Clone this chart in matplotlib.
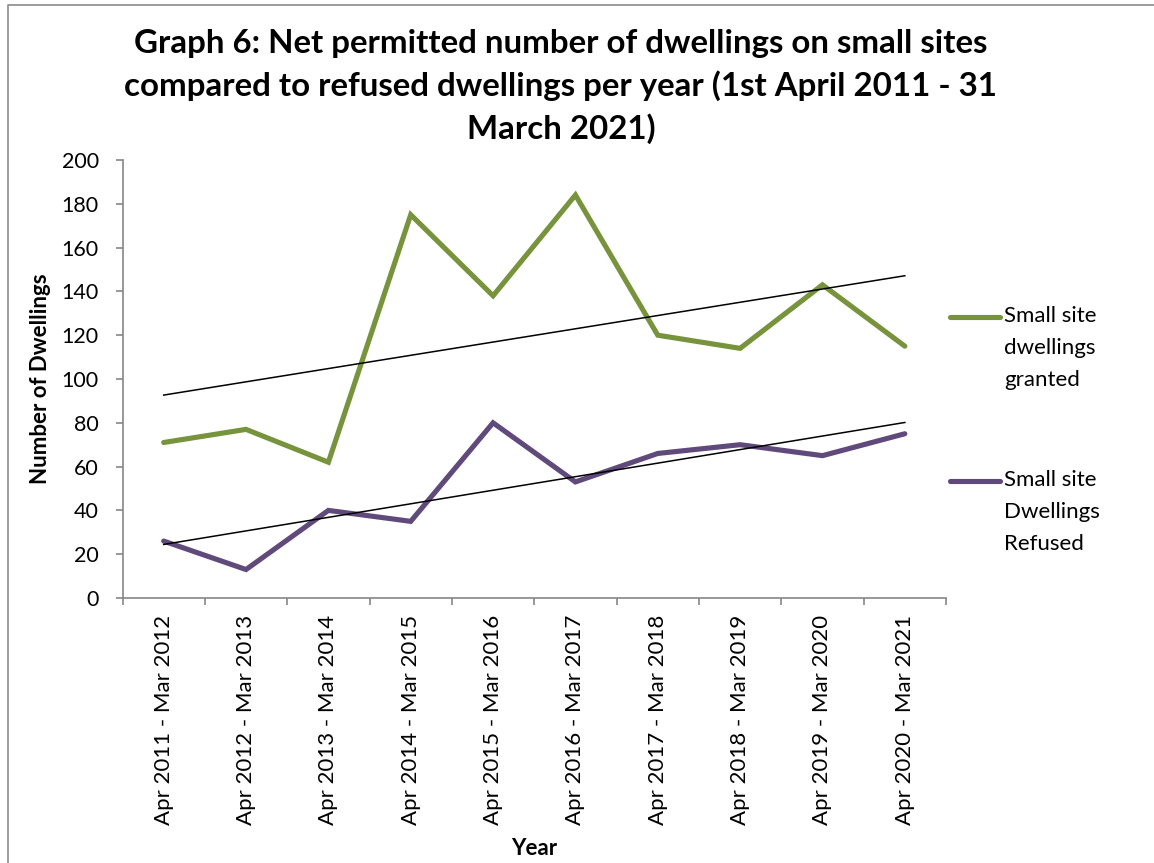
import numpy as np
import matplotlib
matplotlib.use("Agg")
import matplotlib.pyplot as plt
from matplotlib.lines import Line2D
from matplotlib.ticker import FixedLocator, NullFormatter

plt.rcParams['font.family'] = ['Lato', 'DejaVu Sans']

periods = ['Apr 2011 - Mar 2012', 'Apr 2012 - Mar 2013', 'Apr 2013 - Mar 2014',
           'Apr 2014 - Mar 2015', 'Apr 2015 - Mar 2016', 'Apr 2016 - Mar 2017',
           'Apr 2017 - Mar 2018', 'Apr 2018 - Mar 2019', 'Apr 2019 - Mar 2020',
           'Apr 2020 - Mar 2021']
granted = [71, 77, 62, 175, 138, 184, 120, 114, 143, 115]
refused = [26, 13, 40, 35, 80, 53, 66, 70, 65, 75]
series_names = ['Small site\ndwellings\ngranted', 'Small site\nDwellings\nRefused']
colors = ['#77933C', '#604A7B']

W, H = 1154, 863
FS = 16
fig = plt.figure(figsize=(W / 100, H / 100), dpi=100)

# axes box in pixels: left 122, right 946, top 160, bottom 598
ax = fig.add_axes([122.5 / W, (H - 598) / H, 823.5 / W, 438 / H])

x = np.arange(len(periods))
for vals, c in zip([granted, refused], colors):
    ax.plot(x, vals, color=c, lw=3.7, solid_capstyle='round', solid_joinstyle='miter')
    # linear trendline
    k, b = np.polyfit(x + 1, vals, 1)
    ax.plot([x[0], x[-1]], [k * 1 + b, k * len(x) + b], color='black', lw=1.1)

ax.set_xlim(-0.5, len(periods) - 0.5)
ax.set_ylim(0, 200)
ax.set_yticks(np.arange(0, 201, 20))

# ticks on category boundaries, labels centred on categories
ax.xaxis.set_major_locator(FixedLocator(np.arange(-0.5, len(periods), 1.0)))
ax.xaxis.set_major_formatter(NullFormatter())
ax.xaxis.set_minor_locator(FixedLocator(x))
ax.set_xticklabels(periods, minor=True, rotation=90, fontsize=FS)
ax.tick_params(axis='x', which='minor', length=0, pad=12)
ax.tick_params(axis='x', which='major', length=5, width=1.2, color='#868686', direction='out')
ax.tick_params(axis='y', length=5, width=1.2, color='#868686', direction='out', pad=12, labelsize=FS - 0.5)

for s in ['top', 'right']:
    ax.spines[s].set_visible(False)
for s in ['left', 'bottom']:
    ax.spines[s].set_color('#868686')
    ax.spines[s].set_linewidth(1.2)

ax.set_ylabel('Number of Dwellings', fontsize=FS, fontweight='bold')
ax.yaxis.set_label_coords(51 / W, 1 - 379 / H, transform=fig.transFigure)
fig.text(534 / W, 1 - 848 / H, 'Year', fontsize=FS, fontweight='bold', ha='center', va='center')

fig.text(561 / W, 1 - 29 / H,
         'Graph 6: Net permitted number of dwellings on small sites\n'
         'compared to refused dwellings per year (1st April 2011 - 31\n'
         'March 2021)',
         fontsize=23.8, fontweight='bold', ha='center', va='top', linespacing=1.47)

# legend entries on the right
for name, c, ypx in zip(series_names, colors, [317, 481]):
    fig.add_artist(Line2D([950 / W, 1000 / W], [1 - ypx / H, 1 - ypx / H],
                          color=c, lw=3.7, solid_capstyle='round'))
    fig.text(1004 / W, 1 - (ypx - 11) / H, name, fontsize=FS, ha='left', va='top',
             linespacing=1.75)

# chart area border (left and top edges)
fig.add_artist(Line2D([8 / W, 8 / W, 1.0], [0.0, 1 - 5 / H, 1 - 5 / H],
                      color='#8a8a8a', lw=1.2))

fig.savefig('out.png', dpi=100)
